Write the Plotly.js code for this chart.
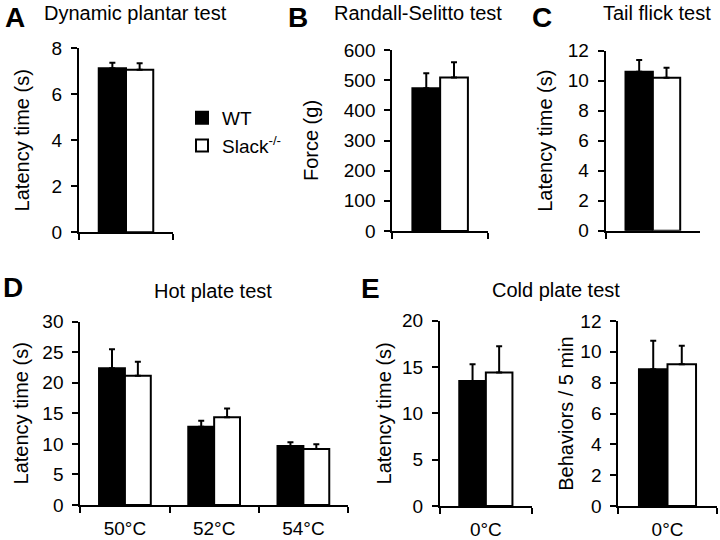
<!DOCTYPE html>
<html>
<head>
<meta charset="utf-8">
<script src="https://cdn.plot.ly/plotly-3.0.1.min.js"></script>
<style>html,body{margin:0;padding:0;background:#fff;}#chart{width:720px;height:540px;}</style>
</head>
<body>
<div id="chart"></div>
<script>
// ---- data ----
const groupNames = ['WT', 'Slack<sup>-/-</sup>'];

const catA = ['Dynamic plantar'];
const wtA = [7.13];   const wtErrA = [0.24];
const koA = [7.07];   const koErrA = [0.28];

const catB = ['Randall-Selitto'];
const wtB = [473];    const wtErrB = [50];
const koB = [509];    const koErrB = [50];

const catC = ['Tail flick'];
const wtC = [10.6];   const wtErrC = [0.78];
const koC = [10.2];   const koErrC = [0.67];

const catD = ['50°C', '52°C', '54°C'];
const wtD = [22.4, 12.8, 9.65];  const wtErrD = [3.1, 1.0, 0.6];
const koD = [21.15, 14.35, 9.15]; const koErrD = [2.3, 1.45, 0.8];

const catE1 = ['0°C'];
const wtE1 = [13.5];  const wtErrE1 = [1.8];
const koE1 = [14.4];  const koErrE1 = [2.85];

const catE2 = ['0°C'];
const wtE2 = [8.87];  const wtErrE2 = [1.85];
const koE2 = [9.19];  const koErrE2 = [1.2];

const panelTitles = ['Dynamic plantar test', 'Randall-Selitto test', 'Tail flick test', 'Hot plate test', 'Cold plate test'];
const panelLetters = ['A', 'B', 'C', 'D', 'E'];
const yTitles = ['Latency time (s)', 'Force (g)', 'Latency time (s)', 'Latency time (s)', 'Latency time (s)', 'Behaviors / 5 min'];

// ---- styling ----
const FONT = 'Liberation Sans, Arial, Helvetica, sans-serif';
const W = 720, H = 540;
const px = v => v / W;
const py = v => 1 - v / H;

const panels = [
  {cat: catA, wt: wtA, wtE: wtErrA, ko: koA, koE: koErrA, xd: [79, 173], yd: [48.3, 232.3], range: [0, 8], dtick: 2, labels: false, standoff: 17},
  {cat: catB, wt: wtB, wtE: wtErrB, ko: koB, koE: koErrB, xd: [392.3, 488], yd: [50, 231], range: [0, 600], dtick: 100, labels: false, standoff: 20},
  {cat: catC, wt: wtC, wtE: wtErrC, ko: koC, koE: koErrC, xd: [605.7, 700], yd: [50.7, 230.7], range: [0, 12], dtick: 2, labels: false, standoff: 10},
  {cat: catD, wt: wtD, wtE: wtErrD, ko: koD, koE: koErrD, xd: [80.3, 348], yd: [321.7, 505], range: [0, 30], dtick: 5, labels: true, standoff: 8},
  {cat: catE1, wt: wtE1, wtE: wtErrE1, ko: koE1, koE: koErrE1, xd: [440, 531.7], yd: [320.7, 506], range: [0, 20], dtick: 5, labels: true, standoff: 5},
  {cat: catE2, wt: wtE2, wtE: wtErrE2, ko: koE2, koE: koErrE2, xd: [618.3, 716.7], yd: [321, 506], range: [0, 12], dtick: 2, labels: true, standoff: 1}
];

const traces = [];
const layout = {
  width: W, height: H,
  margin: {l: 0, r: 0, t: 0, b: 0},
  paper_bgcolor: '#fff', plot_bgcolor: '#fff',
  font: {family: FONT, size: 19, color: '#000'},
  barmode: 'group', bargap: 0.42, bargroupgap: 0,
  showlegend: true,
  legend: {x: px(182), y: py(99), xanchor: 'left', yanchor: 'top', font: {size: 19, family: FONT}, bgcolor: 'rgba(0,0,0,0)', traceorder: 'normal'},
  annotations: []
};

panels.forEach((p, i) => {
  const n = i === 0 ? '' : String(i + 1);
  const xa = 'x' + n, ya = 'y' + n;
  const err = (arr) => ({type: 'data', symmetric: false, array: arr, arrayminus: arr.map(() => 0), color: '#000', thickness: 2, width: 3});
  traces.push({type: 'bar', name: groupNames[0], x: p.cat, y: p.wt, xaxis: xa, yaxis: ya,
    marker: {color: '#000', line: {color: '#000', width: 2}}, error_y: err(p.wtE), showlegend: i === 0, legendgroup: 'wt', hoverinfo: 'none'});
  traces.push({type: 'bar', name: groupNames[1], x: p.cat, y: p.ko, xaxis: xa, yaxis: ya,
    marker: {color: '#fff', line: {color: '#000', width: 2}}, error_y: err(p.koE), showlegend: i === 0, legendgroup: 'ko', hoverinfo: 'none'});
  layout['xaxis' + n] = {
    domain: [px(p.xd[0]), px(p.xd[1])], anchor: ya, type: 'category',
    showline: true, linecolor: '#000', linewidth: 2, showgrid: false, zeroline: false,
    ticks: 'outside', tickson: 'boundaries', ticklen: 6, tickwidth: 2, tickcolor: '#000',
    showticklabels: p.labels, ticklabelstandoff: 5, tickfont: {size: 19, family: FONT}, fixedrange: true
  };
  layout['yaxis' + n] = {
    domain: [py(p.yd[1]), py(p.yd[0])], anchor: xa, range: p.range, dtick: p.dtick, tick0: 0,
    showline: true, linecolor: '#000', linewidth: 2, showgrid: false, zeroline: false,
    ticks: 'outside', ticklen: 6, tickwidth: 2, tickcolor: '#000', ticklabelstandoff: 5,
    tickfont: {size: 19, family: FONT}, fixedrange: true,
    title: {text: yTitles[i], font: {size: 20, family: FONT}, standoff: p.standoff}
  };
});

const letterPos = [[15, 18], [297.5, 18], [541.7, 18], [13, 287], [371, 288]];
letterPos.forEach((pos, i) => {
  layout.annotations.push({text: '<b>' + panelLetters[i] + '</b>', xref: 'paper', yref: 'paper', x: px(pos[0]), y: py(pos[1]),
    xanchor: 'center', yanchor: 'middle', showarrow: false, font: {size: 28, family: FONT, color: '#000'}});
});
const titlePos = [[135, 13], [418, 13], [656.5, 13], [212.5, 290.5], [555.5, 290]];
titlePos.forEach((pos, i) => {
  layout.annotations.push({text: panelTitles[i], xref: 'paper', yref: 'paper', x: px(pos[0]), y: py(pos[1]),
    xanchor: 'center', yanchor: 'middle', showarrow: false, font: {size: 20, family: FONT, color: '#000'}});
});

Plotly.newPlot('chart', traces, layout, {staticPlot: true, displayModeBar: false});
</script>
</body>
</html>
